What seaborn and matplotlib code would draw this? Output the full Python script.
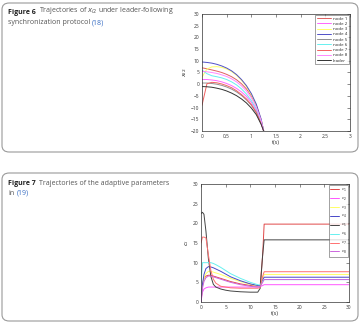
import numpy as np
import pandas as pd
import matplotlib
matplotlib.use("Agg")
import matplotlib.pyplot as plt
import seaborn as sns
from matplotlib.patches import FancyBboxPatch

# ---- data: Figure 6 (x_i2 trajectories) ----
t6 = [0, 0.1, 0.2, 0.3, 0.4, 0.5, 0.6, 0.7, 0.8, 0.9, 1.0, 1.1, 1.2, 1.25]
node1 = [7.0, 6.6, 6.1, 5.6, 5.0, 4.2, 3.2, 1.9, 0.2, -2.0, -5.0, -9.0, -15.5, -20]
node2 = [2.0, 2.0, 1.8, 1.5, 1.0, 0.3, -0.6, -1.8, -3.3, -5.2, -7.8, -11.2, -16.5, -20]
node3 = [3.0, 6.5, 7.4, 7.5, 7.2, 6.5, 5.4, 3.8, 1.7, -1.0, -4.5, -9.0, -15.2, -20]
node4 = [9.5, 9.3, 9.0, 8.5, 7.8, 6.9, 5.7, 4.1, 2.0, -0.6, -4.0, -8.5, -15.0, -20]
node5 = [0.5, 0.5, 0.3, 0.0, -0.5, -1.2, -2.1, -3.3, -4.8, -6.7, -9.0, -12.2, -17.0, -20]
node6 = [6.0, 4.5, 3.6, 3.2, 2.7, 2.0, 1.0, -0.3, -2.0, -4.2, -7.0, -10.6, -16.0, -20]
node7 = [-9.0, 0.2, 0.8, 0.6, 0.1, -0.6, -1.5, -2.8, -4.4, -6.3, -8.7, -12.0, -16.8, -20]
node8 = [5.5, 5.3, 5.0, 4.6, 4.0, 3.3, 2.3, 1.0, -0.7, -2.9, -5.8, -9.8, -15.6, -20]
leader = [-1.0, -1.1, -1.3, -1.7, -2.2, -2.9, -3.8, -4.9, -6.3, -8.0, -10.2, -13.0, -17.2, -20]
node_names = ["node 1", "node 2", "node 3", "node 4", "node 5", "node 6", "node 7", "node 8", "leader"]
node_colors = ["#e06060", "#ff66ff", "#ffff66", "#5050c8", "#909090", "#66f0f0", "#f06060", "#ff88ff", "#333333"]

# ---- data: Figure 7 (adaptive parameters) ----
t7 = [0, 0.3, 0.6, 1, 1.5, 2, 2.5, 3, 4, 5, 6, 8, 10, 11.5, 12, 12.5, 12.8, 30]
c1 = [0, 4.5, 6.0, 6.6, 6.8, 6.8, 6.6, 6.4, 6.0, 5.6, 5.2, 4.6, 4.2, 4.0, 4.1, 12.0, 19.8, 19.8]
c2 = [0, 2.5, 3.3, 3.6, 3.8, 3.8, 3.8, 3.8, 3.8, 3.8, 3.8, 3.8, 3.8, 3.8, 3.9, 4.2, 4.4, 4.4]
c3 = [0, 4.0, 6.0, 7.2, 7.8, 7.8, 7.6, 7.4, 7.0, 6.5, 6.0, 5.2, 4.5, 4.1, 4.2, 6.0, 7.0, 7.0]
c4 = [0, 4.5, 7.0, 8.5, 9.0, 8.9, 8.7, 8.4, 7.8, 7.1, 6.4, 5.4, 4.6, 4.2, 4.2, 5.6, 6.3, 6.3]
c5 = [22.5, 22.8, 22.3, 18.0, 11.0, 6.5, 4.5, 3.8, 3.3, 3.0, 2.8, 2.6, 2.5, 2.5, 3.5, 12.0, 15.8, 15.8]
c6 = [5.0, 10.0, 10.0, 10.0, 10.0, 10.0, 9.8, 9.5, 8.8, 8.0, 7.2, 6.0, 5.0, 4.4, 4.3, 5.3, 5.7, 5.7]
c7 = [15.0, 16.5, 16.5, 16.3, 12.0, 8.0, 5.8, 4.8, 4.0, 3.8, 3.6, 3.5, 3.5, 3.5, 3.7, 6.5, 7.7, 7.7]
c8 = [0, 3.5, 5.2, 6.2, 6.6, 6.6, 6.4, 6.2, 5.8, 5.4, 5.0, 4.4, 4.0, 3.8, 3.9, 5.0, 5.7, 5.7]
c_names = ["$c_1$", "$c_2$", "$c_3$", "$c_4$", "$c_5$", "$c_6$", "$c_7$", "$c_8$"]
c_colors = ["#e04848", "#ff55ff", "#ffff66", "#4848c8", "#444444", "#66f0f0", "#ff7070", "#cc66dd"]

sns.set_theme(style="white")
plt.rcParams["font.family"] = ["Open Sans", "DejaVu Sans"]

fig = plt.figure(figsize=(3.62, 3.23), dpi=100)
W, H = 362, 323


def box(x0, y0, x1, y1):
    p = FancyBboxPatch((x0 / W, 1 - y1 / H), (x1 - x0) / W, (y1 - y0) / H,
                       boxstyle="round,pad=0,rounding_size=0.02",
                       transform=fig.transFigure, facecolor="white",
                       edgecolor="#9a9a9a", linewidth=0.8, zorder=-5)
    fig.patches.append(p)


def caption(ax, x, y, num, line1, line2, ref):
    # caption lines: bold label, grey text, blue equation reference
    head = fig.text(x / W, 1 - y / H, f"Figure {num}", fontsize=5, fontweight="bold",
                    color="#222222", va="bottom")
    ax.annotate(line1, xy=(1, 0), xycoords=head, xytext=(2, 0),
                textcoords="offset points", fontsize=5, color="#555555", va="bottom")
    l2 = fig.text(x / W, 1 - (y + 10) / H, line2, fontsize=5, color="#555555", va="bottom")
    ax.annotate(ref, xy=(1, 0), xycoords=l2, xytext=(1.5, 0),
                textcoords="offset points", fontsize=5, color="#3a6fc4", va="bottom")


def style_axes(ax):
    ax.tick_params(direction="in", length=2, width=0.4, labelsize=3.5,
                   colors="#333333", top=True, right=True, pad=2)
    for s in ax.spines.values():
        s.set_linewidth(0.5)
        s.set_color("#333333")


box(2, 3, 358, 152)
box(2, 173, 358, 321)

# Figure 6
ax1 = fig.add_axes([202 / W, 1 - 131 / H, 148 / W, 117 / H])
series6 = [node1, node2, node3, node4, node5, node6, node7, node8, leader]
df6 = pd.DataFrame({"t": t6 * len(series6),
                    "val": np.concatenate(series6),
                    "name": np.repeat(node_names, len(t6))})
sns.lineplot(data=df6, x="t", y="val", hue="name", palette=node_colors,
             hue_order=node_names, ax=ax1, linewidth=0.7, sort=False, estimator=None)
ax1.set_xlim(0, 3)
ax1.set_ylim(-20, 30)
ax1.set_xticks([0, 0.5, 1, 1.5, 2, 2.5, 3])
ax1.set_xticklabels(["0", "0.5", "1", "1.5", "2", "2.5", "3"])
ax1.set_yticks(range(-20, 31, 5))
ax1.set_xlabel("t(s)", fontsize=4, labelpad=1)
ax1.set_ylabel("$x_{i2}$", fontsize=4.5, labelpad=1)
style_axes(ax1)
leg = ax1.legend(loc="upper right", fontsize=3.2, frameon=True, fancybox=False,
                 edgecolor="#333333", handlelength=3.2, borderpad=0.3, labelspacing=0.25,
                 borderaxespad=0.3, handletextpad=0.5)
leg.get_frame().set_linewidth(0.4)
for ln in leg.get_lines():
    ln.set_linewidth(0.7)

# Figure 7
ax2 = fig.add_axes([201 / W, 1 - 302 / H, 148 / W, 118 / H])
series7 = [c1, c2, c3, c4, c5, c6, c7, c8]
df7 = pd.DataFrame({"t": t7 * len(series7),
                    "val": np.concatenate(series7),
                    "name": np.repeat(c_names, len(t7))})
sns.lineplot(data=df7, x="t", y="val", hue="name", palette=c_colors,
             hue_order=c_names, ax=ax2, linewidth=0.7, sort=False, estimator=None)
ax2.set_xlim(0, 30)
ax2.set_ylim(0, 30)
ax2.set_xticks(range(0, 31, 5))
ax2.set_yticks(range(0, 31, 5))
ax2.set_xlabel("t(s)", fontsize=4, labelpad=1)
ax2.set_ylabel("$c_i$", fontsize=4.5, labelpad=1)
style_axes(ax2)
leg = ax2.legend(loc="upper right", fontsize=3.0, frameon=True, fancybox=False,
                 edgecolor="#333333", handlelength=2.2, borderpad=0.3, labelspacing=0.35,
                 borderaxespad=0.3, handletextpad=0.3)
leg.get_frame().set_linewidth(0.4)
for ln in leg.get_lines():
    ln.set_linewidth(0.7)

caption(ax1, 8, 16, 6, "Trajectories of $x_{i2}$ under leader-following",
        "synchronization protocol", "(18)")
caption(ax2, 8, 187, 7, "Trajectories of the adaptive parameters", "in", "(19)")

fig.savefig("out.png", dpi=100)
